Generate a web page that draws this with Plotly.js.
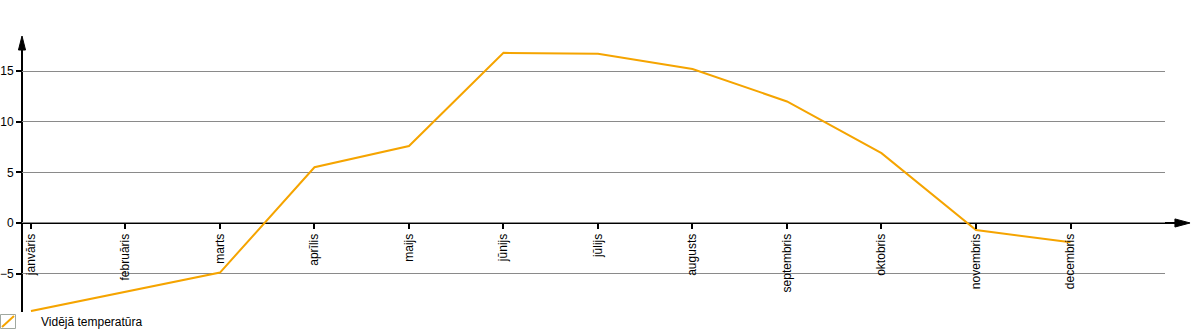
<!DOCTYPE html>
<html>
<head>
<meta charset="utf-8">
<script src="https://cdn.plot.ly/plotly-3.0.1.min.js"></script>
<style>html,body{margin:0;padding:0;background:#fff}#chart{width:1200px;height:330px}</style>
</head>
<body>
<div id="chart"></div>
<script>
const months = ["janvāris","februāris","marts","aprīlis","maijs","jūnijs","jūlijs","augusts","septembris","oktobris","novembris","decembris"];
const avgTemp = [-8.7, -6.8, -4.9, 5.5, 7.6, 16.8, 16.7, 15.2, 12.0, 6.9, -0.7, -1.9];
const seriesName = "Vidējā temperatūra";
const yTicks = [-5, 0, 5, 10, 15];

const xRange = [-0.095, 12.0];
const yRange = [-8.79, 17.08];
const zeroPos = (0 - yRange[0]) / (yRange[1] - yRange[0]);
const font = {family: "Liberation Sans, Arial, sans-serif", size: 12, color: "#000"};
const lineColor = "#f5a400";

const trace = {
  x: months, y: avgTemp, type: "scatter", mode: "lines", name: seriesName,
  line: {color: lineColor, width: 2}, showlegend: false
};

// pixel -> paper helpers for decorations (plot area 22..1165 x, 50..312 y)
const px = v => (v - 22) / 1143;
const py = v => (312 - v) / 262;

const layout = {
  width: 1200, height: 330,
  margin: {l: 22, r: 35, t: 50, b: 18, pad: 0},
  paper_bgcolor: "#fff", plot_bgcolor: "#fff",
  font: font,
  showlegend: false,
  xaxis: {
    type: "category", range: xRange, anchor: "free", position: zeroPos,
    showgrid: false, zeroline: false, showline: false,
    ticks: "outside", ticklen: 5, tickwidth: 2, tickcolor: "#000",
    tickangle: -90, tickfont: font, fixedrange: true, automargin: false
  },
  xaxis2: {
    type: "linear", overlaying: "x", range: xRange, anchor: "free", position: zeroPos,
    tickmode: "array", tickvals: months.map((m, i) => i),
    showgrid: false, zeroline: false, showline: false, showticklabels: false,
    ticks: "inside", ticklen: 5, tickwidth: 2, tickcolor: "#000"
  },
  yaxis: {
    range: yRange, tickmode: "array", tickvals: yTicks,
    showgrid: true, gridcolor: "#8a8a8a", gridwidth: 1, zeroline: false, showline: false,
    ticks: "outside", ticklen: 5, tickwidth: 2, tickcolor: "#000", tickfont: font, fixedrange: true, automargin: false
  },
  yaxis2: {
    range: yRange, overlaying: "y", side: "left", tickmode: "array", tickvals: yTicks,
    showgrid: false, zeroline: false, showline: false, showticklabels: false,
    ticks: "inside", ticklen: 4, tickwidth: 2, tickcolor: "#000"
  },
  shapes: [
    {type: "line", xref: "paper", yref: "y", x0: 0, x1: 1.0095, y0: 0, y1: 0, line: {color: "#000", width: 2}, layer: "below"},
    {type: "path", xref: "paper", yref: "y", path: "M 1.0087,0.4 L 1.0219,0 L 1.0087,-0.4 Z", fillcolor: "#000", line: {color: "#000", width: 1}},
    {type: "line", xref: "paper", yref: "paper", x0: 0, x1: 0, y0: 0, y1: 1.005, line: {color: "#000", width: 2}, layer: "below"},
    {type: "path", xref: "paper", yref: "paper", path: "M -0.0031,1 L 0,1.0534 L 0.0031,1 Z", fillcolor: "#000", line: {color: "#000", width: 1}},
    // legend symbol: box with diagonal
    {type: "rect", xref: "paper", yref: "paper", x0: px(0.5), x1: px(15.5), y0: py(328.5), y1: py(314.5), line: {color: "#a0a8a0", width: 1}, fillcolor: "#fff"},
    {type: "line", xref: "paper", yref: "paper", x0: px(2), x1: px(14), y0: py(327), y1: py(316), line: {color: lineColor, width: 2}}
  ],
  annotations: [
    {xref: "paper", yref: "paper", x: px(39), y: py(322), xanchor: "left", yanchor: "middle", text: seriesName, showarrow: false, font: font}
  ]
};

Plotly.newPlot("chart", [trace], layout, {displayModeBar: false, staticPlot: true});
</script>
</body>
</html>
